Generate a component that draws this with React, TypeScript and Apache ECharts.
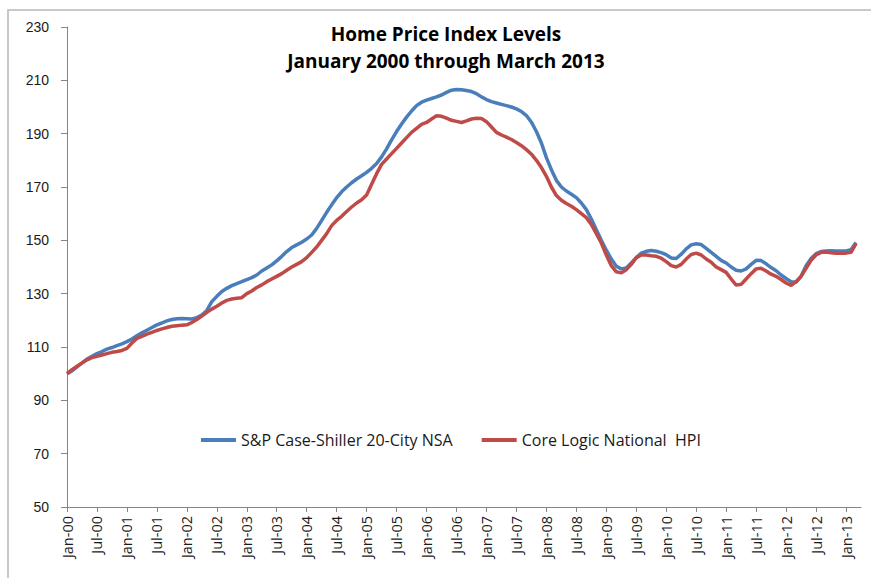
import React, { useEffect, useRef } from "react";
import * as echarts from "echarts";

const TITLE_LINE_1 = "Home Price Index Levels";
const TITLE_LINE_2 = "January 2000 through March 2013";

const MONTH_NAMES = ["Jan", "Feb", "Mar", "Apr", "May", "Jun", "Jul", "Aug", "Sep", "Oct", "Nov", "Dec"];
const YEAR_SUFFIXES = ["00", "01", "02", "03", "04", "05", "06", "07", "08", "09", "10", "11", "12", "13"];
// axis runs Jan-00 .. Apr-13 (data ends Mar-13)
const AXIS_MONTH_COUNT = 160;

const SERIES_NAMES = ["S&P Case-Shiller 20-City NSA", "Core Logic National  HPI"];

// S&P Case-Shiller 20-City NSA, monthly Jan-00 .. Mar-13
const caseShiller = [
  // 2000
  100, 101, 102.5, 104, 105.5, 106.5, 107.5, 108.3, 109.2, 109.8, 110.5, 111.2,
  // 2001
  112, 113, 114.2, 115.3, 116.3, 117.3, 118.3, 119, 119.8, 120.3, 120.6, 120.7,
  // 2002
  120.6, 120.5, 121, 122, 123.7, 127, 129, 130.8, 132, 133, 133.8, 134.5,
  // 2003
  135.3, 136, 137, 138.5, 139.6, 140.8, 142.3, 144, 145.8, 147.3, 148.3, 149.3,
  // 2004
  150.5, 152, 154.5, 157.5, 160.5, 163.3, 166, 168.2, 170, 171.6, 173, 174.2,
  // 2005
  175.5, 177, 178.8, 181.3, 184.3, 187.7, 190.8, 193.6, 196.2, 198.5, 200.5, 201.8,
  // 2006
  202.6, 203.2, 203.8, 204.5, 205.5, 206.3, 206.6, 206.5, 206.2, 205.8, 205, 203.8,
  // 2007
  202.8, 202, 201.5, 201, 200.5, 200, 199.3, 198.3, 196.8, 194.3, 190.8, 186.5,
  // 2008
  181, 176.5, 172.5, 170, 168.5, 167.3, 166, 164, 161.5, 158, 154, 150,
  // 2009
  146.3, 143, 140.3, 139.3, 139.6, 141.5, 143.5, 145.2, 145.9, 146.2, 145.9, 145.4,
  // 2010
  144.6, 143.4, 143.2, 144.8, 146.8, 148.3, 148.7, 148.4, 147, 145.5, 144, 142.5,
  // 2011
  141.5, 140, 138.8, 138.5, 139.3, 141, 142.5, 142.4, 141.2, 139.8, 138.6, 137,
  // 2012
  135.7, 134.5, 134.3, 136.5, 140.5, 143.2, 145, 145.8, 146, 146.1, 146, 146,
  // 2013
  146, 146.5, 149.2,
];

// Core Logic National HPI, monthly Jan-00 .. Mar-13
const coreLogic = [
  // 2000
  100, 101.5, 102.8, 104, 105.2, 106, 106.5, 107, 107.5, 108, 108.3, 108.7,
  // 2001
  109.5, 111.5, 113.2, 114, 114.8, 115.5, 116.2, 116.8, 117.3, 117.8, 118, 118.2,
  // 2002
  118.3, 119.2, 120.3, 121.6, 123, 124.2, 125.3, 126.5, 127.5, 128, 128.3, 128.5,
  // 2003
  130, 131, 132.3, 133.3, 134.5, 135.5, 136.5, 137.5, 138.8, 140, 141, 142,
  // 2004
  143.5, 145.5, 147.5, 150, 152.5, 155.5, 157.5, 159, 160.8, 162.5, 164, 165.2,
  // 2005
  167, 171, 175, 178.5, 180.5, 182.5, 184.5, 186.5, 188.5, 190.5, 192, 193.5,
  // 2006
  194.2, 195.5, 196.7, 196.5, 195.8, 195, 194.6, 194.2, 194.8, 195.5, 195.8, 195.7,
  // 2007
  194.5, 192.5, 190.5, 189.5, 188.7, 187.8, 186.7, 185.5, 184, 182.3, 180, 177.3,
  // 2008
  174, 170, 166.8, 165, 163.8, 162.8, 161.5, 160, 158.5, 156, 152.5, 149,
  // 2009
  144.5, 140.5, 138.2, 137.8, 139, 141, 143.5, 144.5, 144.5, 144.2, 144, 143.3,
  // 2010
  142, 140.5, 140, 141, 143, 144.7, 145.2, 144.5, 143, 141.8, 140, 139,
  // 2011
  138, 135.5, 133.2, 133.5, 135.5, 137.5, 139.3, 139.5, 138.5, 137.3, 136.5, 135.3,
  // 2012
  134, 133.1, 134.5, 136.5, 139.5, 142.5, 144.5, 145.5, 145.6, 145.3, 145.2, 145.2,
  // 2013
  145.2, 145.5, 148.8,
];

const Y_MIN = 50;
const Y_MAX = 230;
const Y_STEP = 20;

function buildCategories(): string[] {
  const out: string[] = [];
  for (let i = 0; i < AXIS_MONTH_COUNT; i++) {
    out.push(MONTH_NAMES[i % 12] + "-" + YEAR_SUFFIXES[Math.floor(i / 12)]);
  }
  return out;
}

export default function App() {
  const ref = useRef<HTMLDivElement>(null);

  useEffect(() => {
    if (!ref.current) return;
    const chart = echarts.init(ref.current, undefined, { renderer: "svg" });
    const categories = buildCategories();
    const font = "'Liberation Sans', Arial, sans-serif";
    const wideFont = "'Open Sans', 'Liberation Sans', sans-serif";

    chart.setOption({
      animation: false,
      backgroundColor: "#ffffff",
      grid: { left: 67, right: 10, top: 27, bottom: 71, containLabel: false },
      legend: {
        left: 201,
        top: 432,
        padding: 0,
        itemWidth: 35,
        itemHeight: 4,
        itemGap: 29,
        icon: "rect",
        textStyle: { fontFamily: wideFont, fontSize: 16, color: "#1a1a1a" },
        data: SERIES_NAMES,
      },
      xAxis: {
        type: "category",
        data: categories,
        boundaryGap: false,
        axisLine: { show: true, lineStyle: { color: "#868686", width: 1 } },
        axisTick: { show: true, interval: 5, length: 5, lineStyle: { color: "#868686" } },
        axisLabel: {
          interval: 5,
          rotate: 90,
          margin: 9,
          fontFamily: wideFont,
          fontSize: 14.5,
          color: "#1a1a1a",
        },
        splitLine: { show: false },
      },
      yAxis: {
        type: "value",
        min: Y_MIN,
        max: Y_MAX,
        interval: Y_STEP,
        axisLine: { show: true, lineStyle: { color: "#868686", width: 1 } },
        axisTick: { show: true, length: 6, lineStyle: { color: "#868686" } },
        axisLabel: { margin: 18, fontFamily: font, fontSize: 14, color: "#1a1a1a" },
        splitLine: { show: false },
      },
      graphic: [
        {
          type: "rect",
          shape: { x: 8, y: 10, width: 900, height: 600 },
          style: { fill: "none", stroke: "#b8b8b8", lineWidth: 1.5 },
          silent: true,
          z: -1,
        },
        {
          type: "text",
          x: 446,
          y: 34,
          style: {
            text: TITLE_LINE_1,
            fontFamily: wideFont,
            fontSize: 19,
            fontWeight: "bold",
            fill: "#000",
            textAlign: "center",
            textVerticalAlign: "middle",
          },
        },
        {
          type: "text",
          x: 446,
          y: 61,
          style: {
            text: TITLE_LINE_2,
            fontFamily: wideFont,
            fontSize: 19,
            fontWeight: "bold",
            fill: "#000",
            textAlign: "center",
            textVerticalAlign: "middle",
          },
        },
      ],
      series: [
        {
          name: SERIES_NAMES[0],
          type: "line",
          data: caseShiller,
          showSymbol: false,
          symbol: "none",
          lineStyle: { color: "#4a7ebb", width: 3.5 },
          itemStyle: { color: "#4a7ebb" },
          z: 2,
        },
        {
          name: SERIES_NAMES[1],
          type: "line",
          data: coreLogic,
          showSymbol: false,
          symbol: "none",
          lineStyle: { color: "#be4b48", width: 3.5 },
          itemStyle: { color: "#be4b48" },
          z: 3,
        },
      ],
    });

    return () => chart.dispose();
  }, []);

  return (
    <div
      ref={ref}
      style={{ position: "absolute", left: 0, top: 0, width: 871, height: 578 }}
    />
  );
}
